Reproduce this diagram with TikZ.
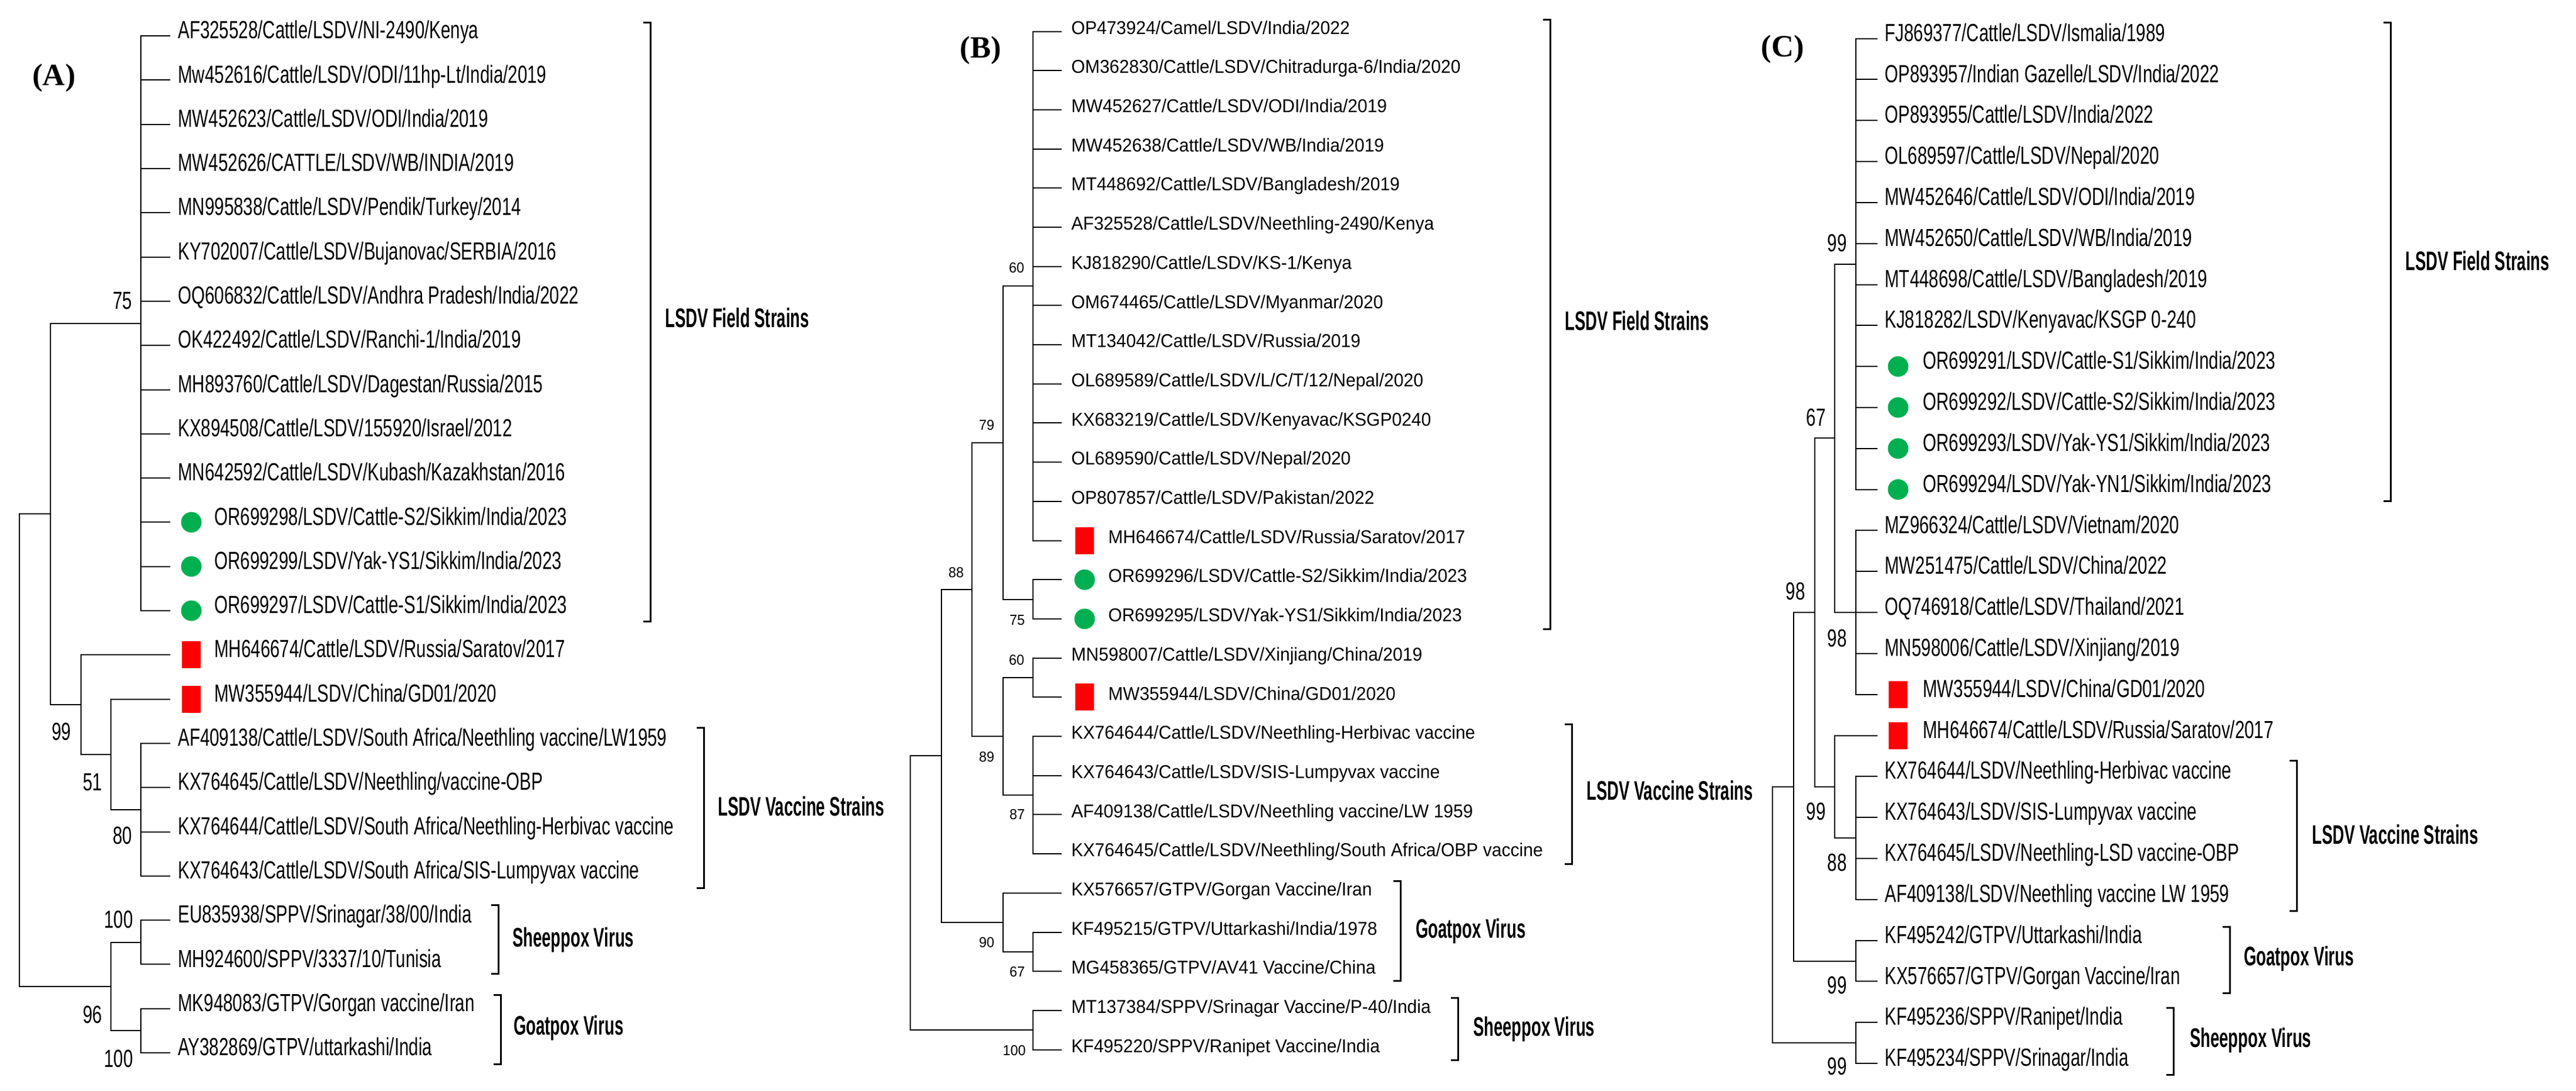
\documentclass[tikz,border=0pt]{standalone}
\usepackage{fontspec}
\setmainfont{Liberation Sans}
\newfontfamily\fA{Liberation Sans}[FakeStretch=0.70]
\newfontfamily\fB{Liberation Sans}[FakeStretch=0.95]
\newfontfamily\fG{Liberation Sans}[FakeStretch=0.60]
\newfontfamily\fH{Liberation Serif}
\definecolor{gmark}{RGB}{0,176,80}
\definecolor{rmark}{RGB}{255,0,0}
\tikzset{
 br/.style={line width=0.4mm,black},
 brk/.style={line width=0.6mm,black},
 labA/.style={inner sep=0,anchor=mid west,font=\fA\fontsize{24}{24}\selectfont},
 labB/.style={inner sep=0,anchor=mid west,font=\fB\fontsize{18}{18}\selectfont},
 bsA/.style={inner sep=0,font=\fA\fontsize{24}{24}\selectfont},
 bsB/.style={inner sep=0,font=\fB\fontsize{14}{14}\selectfont},
 grp/.style={inner sep=0,anchor=mid west,font=\fG\bfseries\fontsize{26}{26}\selectfont},
 pan/.style={inner sep=0,font=\fH\bfseries\fontsize{30}{30}\selectfont},
 gdot/.style={circle,fill=gmark,minimum size=35*0.2mm,inner sep=0},
 rsq/.style={rectangle,fill=rmark,minimum width=32*0.2mm,minimum height=46*0.2mm,inner sep=0},
}
\newcommand\yA[1]{48+59.1*(#1-1)}
\newcommand\yB[1]{42+52.35*(#1-1)}
\newcommand\yC[1]{51.5+54.8*(#1-1)}
% name, tipx, y, parent, textx, style, text
\newcommand\lf[7]{\coordinate (#1) at (#2,{#3}); \draw[br] (#4) |- (#1); \node[#6] (t#1) at (#5,{#3}) {#7};}
\newcommand\LA[3]{\lf{a#1}{290}{\yA{#1}}{#2}{303}{labA}{#3}}
\newcommand\LAg[3]{\lf{a#1}{290}{\yA{#1}}{#2}{365}{labA}{#3}\node[gdot] (ma#1) at (326,{\yA{#1}}) {};}
\newcommand\LAr[3]{\lf{a#1}{290}{\yA{#1}}{#2}{365}{labA}{#3}\node[rsq] (ma#1) at (326,{\yA{#1}}) {};}
\newcommand\LB[3]{\lf{b#1}{1809}{\yB{#1}}{#2}{1825}{labB}{#3}}
\newcommand\LBg[3]{\lf{b#1}{1809}{\yB{#1}}{#2}{1888}{labB}{#3}\node[gdot] (mb#1) at (1848,{\yB{#1}}) {};}
\newcommand\LBr[3]{\lf{b#1}{1809}{\yB{#1}}{#2}{1888}{labB}{#3}\node[rsq] (mb#1) at (1848,{\yB{#1}}) {};}
\newcommand\LC[3]{\lf{c#1}{3199}{\yC{#1}}{#2}{3211}{labA}{#3}}
\newcommand\LCg[3]{\lf{c#1}{3199}{\yC{#1}}{#2}{3276}{labA}{#3}\node[gdot] (mc#1) at (3234,{\yC{#1}}) {};}
\newcommand\LCr[3]{\lf{c#1}{3199}{\yC{#1}}{#2}{3276}{labA}{#3}\node[rsq] (mc#1) at (3234,{\yC{#1}}) {};}
% bracket: x, y1, y2
\newcommand\brkt[3]{\draw[brk] (#1-12,#2) -- (#1,#2) -- (#1,#3) -- (#1-12,#3);}
\begin{document}
\begin{tikzpicture}[x=0.2mm,y=-0.2548mm]
\useasboundingbox (0,0) rectangle (4389,1457.6);
\fill[white] (0,0) rectangle (4389,1457.6);
%================ Panel A
\node[pan] (pA) at (92,104) {(A)};
\coordinate (aR) at (33,{\yA{17.156}});
\coordinate (a86) at (86,{\yA{11.8125}});
\coordinate (aF) at (240,{\yA{7.5}});
\coordinate (a138) at (138,{\yA{16.125}});
\coordinate (a189) at (189,{\yA{17.25}});
\coordinate (aV) at (240,{\yA{18.5}});
\coordinate (aC) at (189,{\yA{22.5}});
\coordinate (aS) at (240,{\yA{21.5}});
\coordinate (aG) at (240,{\yA{23.5}});
\draw[br] (aR) |- (a86); \draw[br] (aR) |- (aC);
\draw[br] (a86) |- (aF); \draw[br] (a86) |- (a138);
\draw[br] (a138) |- (a189); \draw[br] (a189) |- (aV);
\draw[br] (aC) |- (aS); \draw[br] (aC) |- (aG);
\LA{1}{aF}{AF325528/Cattle/LSDV/NI-2490/Kenya}
\LA{2}{aF}{Mw452616/Cattle/LSDV/ODI/11hp-Lt/India/2019}
\LA{3}{aF}{MW452623/Cattle/LSDV/ODI/India/2019}
\LA{4}{aF}{MW452626/CATTLE/LSDV/WB/INDIA/2019}
\LA{5}{aF}{MN995838/Cattle/LSDV/Pendik/Turkey/2014}
\LA{6}{aF}{KY702007/Cattle/LSDV/Bujanovac/SERBIA/2016}
\LA{7}{aF}{OQ606832/Cattle/LSDV/Andhra Pradesh/India/2022}
\LA{8}{aF}{OK422492/Cattle/LSDV/Ranchi-1/India/2019}
\LA{9}{aF}{MH893760/Cattle/LSDV/Dagestan/Russia/2015}
\LA{10}{aF}{KX894508/Cattle/LSDV/155920/Israel/2012}
\LA{11}{aF}{MN642592/Cattle/LSDV/Kubash/Kazakhstan/2016}
\LAg{12}{aF}{OR699298/LSDV/Cattle-S2/Sikkim/India/2023}
\LAg{13}{aF}{OR699299/LSDV/Yak-YS1/Sikkim/India/2023}
\LAg{14}{aF}{OR699297/LSDV/Cattle-S1/Sikkim/India/2023}
\LAr{15}{a138}{MH646674/Cattle/LSDV/Russia/Saratov/2017}
\LAr{16}{a189}{MW355944/LSDV/China/GD01/2020}
\LA{17}{aV}{AF409138/Cattle/LSDV/South Africa/Neethling vaccine/LW1959}
\LA{18}{aV}{KX764645/Cattle/LSDV/Neethling/vaccine-OBP}
\LA{19}{aV}{KX764644/Cattle/LSDV/South Africa/Neethling-Herbivac vaccine}
\LA{20}{aV}{KX764643/Cattle/LSDV/South Africa/SIS-Lumpyvax vaccine}
\LA{21}{aS}{EU835938/SPPV/Srinagar/38/00/India}
\LA{22}{aS}{MH924600/SPPV/3337/10/Tunisia}
\LA{23}{aG}{MK948083/GTPV/Gorgan vaccine/Iran}
\LA{24}{aG}{AY382869/GTPV/uttarkashi/India}
\node[bsA] (bsa1) at (209,402) {75};
\node[bsA] (bsa2) at (105,978) {99};
\node[bsA] (bsa3) at (158,1046) {51};
\node[bsA] (bsa4) at (209,1117) {80};
\node[bsA] (bsa5) at (202,1229) {100};
\node[bsA] (bsa6) at (158,1356) {96};
\node[bsA] (bsa7) at (202,1415) {100};
\brkt{1108}{30}{831}
\node[grp] (gA1) at (1133,434) {LSDV Field Strains};
\brkt{1199}{973}{1187}
\node[grp] (gA2) at (1223,1087) {LSDV Vaccine Strains};
\brkt{849}{1210}{1302}
\node[grp] (gA3) at (873,1262) {Sheeppox Virus};
\brkt{853}{1330}{1423}
\node[grp] (gA4) at (875,1380) {Goatpox Virus};
%================ Panel B
\node[pan] (pB) at (1671,67) {(B)};
\coordinate (bP) at (1760,{\yB{7.5}});
\coordinate (bK) at (1760,{\yB{15.5}});
\coordinate (bN1) at (1709,{\yB{11.5}});
\coordinate (bX) at (1760,{\yB{17.5}});
\coordinate (bV) at (1760,{\yB{20.5}});
\coordinate (bN2) at (1709,{\yB{19}});
\coordinate (bN3) at (1656,{\yB{15.25}});
\coordinate (bGp) at (1760,{\yB{24.5}});
\coordinate (bG) at (1709,{\yB{23.75}});
\coordinate (bN4) at (1604,{\yB{19.5}});
\coordinate (bS) at (1760,{\yB{26.5}});
\coordinate (bR) at (1551,{\yB{23}});
\draw[br] (bR) |- (bN4); \draw[br] (bR) |- (bS);
\draw[br] (bN4) |- (bN3); \draw[br] (bN4) |- (bG);
\draw[br] (bN3) |- (bN1); \draw[br] (bN3) |- (bN2);
\draw[br] (bN1) |- (bP); \draw[br] (bN1) |- (bK);
\draw[br] (bN2) |- (bX); \draw[br] (bN2) |- (bV);
\draw[br] (bG) |- (bGp);
\LB{1}{bP}{OP473924/Camel/LSDV/India/2022}
\LB{2}{bP}{OM362830/Cattle/LSDV/Chitradurga-6/India/2020}
\LB{3}{bP}{MW452627/Cattle/LSDV/ODI/India/2019}
\LB{4}{bP}{MW452638/Cattle/LSDV/WB/India/2019}
\LB{5}{bP}{MT448692/Cattle/LSDV/Bangladesh/2019}
\LB{6}{bP}{AF325528/Cattle/LSDV/Neethling-2490/Kenya}
\LB{7}{bP}{KJ818290/Cattle/LSDV/KS-1/Kenya}
\LB{8}{bP}{OM674465/Cattle/LSDV/Myanmar/2020}
\LB{9}{bP}{MT134042/Cattle/LSDV/Russia/2019}
\LB{10}{bP}{OL689589/Cattle/LSDV/L/C/T/12/Nepal/2020}
\LB{11}{bP}{KX683219/Cattle/LSDV/Kenyavac/KSGP0240}
\LB{12}{bP}{OL689590/Cattle/LSDV/Nepal/2020}
\LB{13}{bP}{OP807857/Cattle/LSDV/Pakistan/2022}
\LBr{14}{bP}{MH646674/Cattle/LSDV/Russia/Saratov/2017}
\LBg{15}{bK}{OR699296/LSDV/Cattle-S2/Sikkim/India/2023}
\LBg{16}{bK}{OR699295/LSDV/Yak-YS1/Sikkim/India/2023}
\LB{17}{bX}{MN598007/Cattle/LSDV/Xinjiang/China/2019}
\LBr{18}{bX}{MW355944/LSDV/China/GD01/2020}
\LB{19}{bV}{KX764644/Cattle/LSDV/Neethling-Herbivac vaccine}
\LB{20}{bV}{KX764643/Cattle/LSDV/SIS-Lumpyvax vaccine}
\LB{21}{bV}{AF409138/Cattle/LSDV/Neethling vaccine/LW 1959}
\LB{22}{bV}{KX764645/Cattle/LSDV/Neethling/South Africa/OBP vaccine}
\LB{23}{bG}{KX576657/GTPV/Gorgan Vaccine/Iran}
\LB{24}{bGp}{KF495215/GTPV/Uttarkashi/India/1978}
\LB{25}{bGp}{MG458365/GTPV/AV41 Vaccine/China}
\LB{26}{bS}{MT137384/SPPV/Srinagar Vaccine/P-40/India}
\LB{27}{bS}{KF495220/SPPV/Ranipet Vaccine/India}
\node[bsB] (bsb1) at (1732,358) {60};
\node[bsB] (bsb2) at (1681,568) {79};
\node[bsB] (bsb3) at (1733,829) {75};
\node[bsB] (bsb4) at (1629,765) {88};
\node[bsB] (bsb5) at (1732,882) {60};
\node[bsB] (bsb6) at (1681,1012) {89};
\node[bsB] (bsb7) at (1733,1089) {87};
\node[bsB] (bsb8) at (1681,1260) {90};
\node[bsB] (bsb9) at (1733,1299) {67};
\node[bsB] (bsb10) at (1728,1404) {100};
\brkt{2641}{26}{841}
\node[grp] (gB1) at (2666,438) {LSDV Field Strains};
\brkt{2678}{968}{1155}
\node[grp] (gB2) at (2703,1066) {LSDV Vaccine Strains};
\brkt{2386}{1178}{1311}
\node[grp] (gB3) at (2412,1250) {Goatpox Virus};
\brkt{2484}{1334}{1417}
\node[grp] (gB4) at (2510,1381) {Sheeppox Virus};
%================ Panel C
\node[pan] (pC) at (3037,66) {(C)};
\coordinate (cF) at (3162,{\yC{6.5}});
\coordinate (cM) at (3162,{\yC{15}});
\coordinate (cN1) at (3126,{\yC{10.75}});
\coordinate (cV) at (3162,{\yC{20.5}});
\coordinate (cN2) at (3126,{\yC{19.25}});
\coordinate (cN3) at (3092,{\yC{15}});
\coordinate (cG) at (3162,{\yC{23.5}});
\coordinate (cN4) at (3056,{\yC{19.25}});
\coordinate (cS) at (3162,{\yC{25.5}});
\coordinate (cR) at (3020,{\yC{22.375}});
\draw[br] (cR) |- (cN4); \draw[br] (cR) |- (cS);
\draw[br] (cN4) |- (cN3); \draw[br] (cN4) |- (cG);
\draw[br] (cN3) |- (cN1); \draw[br] (cN3) |- (cN2);
\draw[br] (cN1) |- (cF); \draw[br] (cN1) |- (cM);
\draw[br] (cN2) |- (cV);
\LC{1}{cF}{FJ869377/Cattle/LSDV/Ismalia/1989}
\LC{2}{cF}{OP893957/Indian Gazelle/LSDV/India/2022}
\LC{3}{cF}{OP893955/Cattle/LSDV/India/2022}
\LC{4}{cF}{OL689597/Cattle/LSDV/Nepal/2020}
\LC{5}{cF}{MW452646/Cattle/LSDV/ODI/India/2019}
\LC{6}{cF}{MW452650/Cattle/LSDV/WB/India/2019}
\LC{7}{cF}{MT448698/Cattle/LSDV/Bangladesh/2019}
\LC{8}{cF}{KJ818282/LSDV/Kenyavac/KSGP 0-240}
\LCg{9}{cF}{OR699291/LSDV/Cattle-S1/Sikkim/India/2023}
\LCg{10}{cF}{OR699292/LSDV/Cattle-S2/Sikkim/India/2023}
\LCg{11}{cF}{OR699293/LSDV/Yak-YS1/Sikkim/India/2023}
\LCg{12}{cF}{OR699294/LSDV/Yak-YN1/Sikkim/India/2023}
\LC{13}{cM}{MZ966324/Cattle/LSDV/Vietnam/2020}
\LC{14}{cM}{MW251475/Cattle/LSDV/China/2022}
\LC{15}{cM}{OQ746918/Cattle/LSDV/Thailand/2021}
\LC{16}{cM}{MN598006/Cattle/LSDV/Xinjiang/2019}
\LCr{17}{cM}{MW355944/LSDV/China/GD01/2020}
\LCr{18}{cN2}{MH646674/Cattle/LSDV/Russia/Saratov/2017}
\LC{19}{cV}{KX764644/LSDV/Neethling-Herbivac vaccine}
\LC{20}{cV}{KX764643/LSDV/SIS-Lumpyvax vaccine}
\LC{21}{cV}{KX764645/LSDV/Neethling-LSD vaccine-OBP}
\LC{22}{cV}{AF409138/LSDV/Neethling vaccine LW 1959}
\LC{23}{cG}{KF495242/GTPV/Uttarkashi/India}
\LC{24}{cG}{KX576657/GTPV/Gorgan Vaccine/Iran}
\LC{25}{cS}{KF495236/SPPV/Ranipet/India}
\LC{26}{cS}{KF495234/SPPV/Srinagar/India}
\node[bsA] (bsc1) at (3130,325) {99};
\node[bsA] (bsc2) at (3094,558) {67};
\node[bsA] (bsc3) at (3059,790) {98};
\node[bsA] (bsc4) at (3130,853) {98};
\node[bsA] (bsc5) at (3094,1085) {99};
\node[bsA] (bsc6) at (3130,1153) {88};
\node[bsA] (bsc7) at (3130,1317) {99};
\node[bsA] (bsc8) at (3130,1425) {99};
\brkt{4073}{30}{670}
\node[grp] (gC1) at (4098,358) {LSDV Field Strains};
\brkt{3913}{1017}{1218}
\node[grp] (gC2) at (3939,1125) {LSDV Vaccine Strains};
\brkt{3799}{1239}{1328}
\node[grp] (gC3) at (3823,1287) {Goatpox Virus};
\brkt{3703}{1347}{1437}
\node[grp] (gC4) at (3731,1396) {Sheeppox Virus};
\end{tikzpicture}
\end{document}
